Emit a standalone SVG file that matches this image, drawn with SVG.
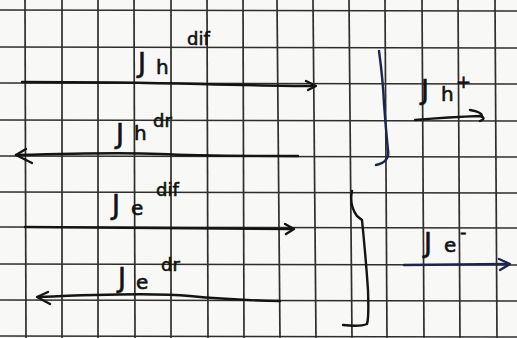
<svg xmlns="http://www.w3.org/2000/svg" width="517" height="338" viewBox="0 0 517 338">
  <style>
    .grid line { stroke: #2e2e2e; stroke-width: 1.7; }
    .ink { fill: none; stroke: #141414; stroke-width: 2.4; stroke-linecap: round; stroke-linejoin: round; }
    .blue { fill: none; stroke: #1c2550; stroke-width: 2.4; stroke-linecap: round; stroke-linejoin: round; }
    .lbl { font-family: "DejaVu Sans", "Liberation Sans", sans-serif; fill: #121212; stroke: #121212; stroke-width: 0.6; }
    .main { font-size: 27px; }
    .sub { font-size: 20px; }
    .sup { font-size: 18px; }
  </style>

  <!-- paper -->
  <rect width="517" height="338" fill="#f8f8f7"/>

  <!-- squared paper -->
  <g class="grid">
    <line x1="25" y1="0" x2="26" y2="338"/>
    <line x1="62" y1="0" x2="62" y2="338"/>
    <line x1="98" y1="0" x2="98" y2="338"/>
    <line x1="134" y1="0" x2="135" y2="338"/>
    <line x1="171" y1="0" x2="171" y2="338"/>
    <line x1="207" y1="0" x2="208" y2="338"/>
    <line x1="243" y1="0" x2="244" y2="338"/>
    <line x1="277" y1="0" x2="280" y2="338"/>
    <line x1="313" y1="0" x2="316" y2="338"/>
    <line x1="349" y1="0" x2="352" y2="338"/>
    <line x1="385" y1="0" x2="387" y2="338"/>
    <line x1="422" y1="0" x2="424" y2="338"/>
    <line x1="458" y1="0" x2="460" y2="338"/>
    <line x1="495" y1="0" x2="497" y2="338"/>
    <line x1="0" y1="10" x2="517" y2="11"/>
    <line x1="0" y1="47" x2="517" y2="48"/>
    <line x1="0" y1="83" x2="517" y2="84"/>
    <line x1="0" y1="120" x2="517" y2="121"/>
    <line x1="0" y1="156" x2="517" y2="157"/>
    <line x1="0" y1="192" x2="517" y2="193"/>
    <line x1="0" y1="227" x2="517" y2="228"/>
    <line x1="0" y1="264" x2="517" y2="265"/>
    <line x1="0" y1="300" x2="517" y2="301"/>
    <line x1="0" y1="336" x2="517" y2="337"/>
  </g>

  <!-- connectors: the four flux arrows and the two results -->
  <g id="connectors">
    <path class="ink" d="M22 82 Q120 82 200 84 T312 86"/>
    <path class="ink" d="M306 81 L316 86 L308 90"/>
    <path class="ink" d="M298 156 Q200 156 160 154 T16 155"/>
    <path class="ink" d="M26 149 L16 155 L32 163"/>
    <path class="ink" d="M25 227 Q150 228 292 229"/>
    <path class="ink" d="M285 224 L294 229 L286 234"/>
    <path class="ink" d="M280 301 Q230 300 190 296 T38 297"/>
    <path class="ink" d="M48 292 L37 297 L50 304"/>
    <path class="ink" d="M415 120 Q450 117 480 116 Q487 118 480 121"/>
    <path class="ink" d="M470 110 Q482 112 482 116"/>
    <path class="blue" d="M404 265 L508 264"/>
    <path class="blue" d="M499 259 L510 264 L500 270"/>
  </g>

  <!-- braces -->
  <g id="brace-h">
    <path class="blue" d="M379 51 Q383 80 384 104 Q386 130 388 150 Q390 162 376 165"/>
  </g>
  <g id="brace-e">
    <path class="ink" d="M352 191 Q349 205 357 216 L362 220 Q366 260 368 290 Q369 318 367 324 Q360 327 343 325"/>
  </g>

  <!-- labels -->
  <g id="label-jh-dif">
    <text class="lbl main" x="138" y="72">J</text>
    <text class="lbl sub" x="156" y="74">h</text>
    <text class="lbl sup" x="187" y="45">dif</text>
  </g>
  <g id="label-jh-dr">
    <text class="lbl main" x="116" y="143">J</text>
    <text class="lbl sub" x="134" y="140">h</text>
    <text class="lbl sup" x="153" y="127">dr</text>
  </g>
  <g id="label-je-dif">
    <text class="lbl main" x="112" y="214">J</text>
    <text class="lbl sub" x="131" y="215">e</text>
    <text class="lbl sup" x="156" y="196">dif</text>
  </g>
  <g id="label-je-dr">
    <text class="lbl main" x="118" y="287">J</text>
    <text class="lbl sub" x="136" y="289">e</text>
    <text class="lbl sup" x="161" y="271">dr</text>
  </g>
  <g id="label-jh-plus">
    <text class="lbl main" x="421" y="99">J</text>
    <text class="lbl sub" x="441" y="101">h</text>
    <text class="lbl sup" x="456" y="88">+</text>
  </g>
  <g id="label-je-minus">
    <text class="lbl main" x="424" y="252" fill="#1c2550">J</text>
    <text class="lbl sub" x="444" y="252">e</text>
    <text class="lbl sup" x="460" y="238">-</text>
  </g>
</svg>
